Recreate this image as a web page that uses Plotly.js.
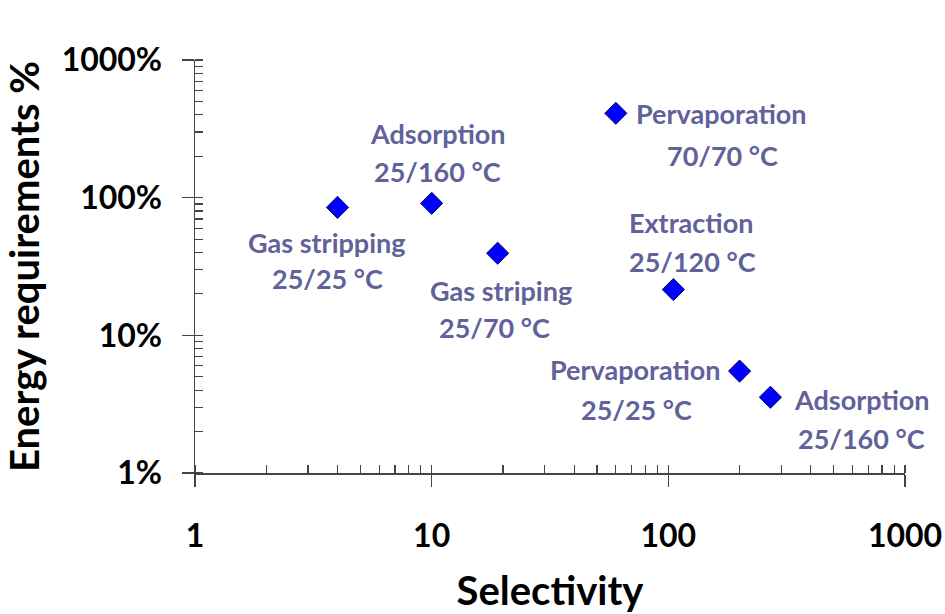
<!DOCTYPE html>
<html><head><meta charset="utf-8">
<script src="https://cdn.plot.ly/plotly-3.0.1.min.js"></script>
<style>html,body{margin:0;padding:0;background:#fff}</style>
</head><body>
<div id="chart" style="width:945px;height:614px"></div>
<script>
// Data (selectivity, energy requirement in %)
const selectivity = [4, 10, 19, 60, 105, 200, 270];
const energyPct  = [85, 91, 39.5, 410, 21.5, 5.5, 3.55];
const labelLine1 = ["Gas stripping", "Adsorption", "Gas striping", "Pervaporation", "Extraction", "Pervaporation", "Adsorption"];
const labelLine2 = ["25/25 °C", "25/160 °C", "25/70 °C", "70/70 °C", "25/120 °C", "25/25 °C", "25/160 °C"];
const xTickVals = [1, 10, 100, 1000];
const xTickText = ["1", "10", "100", "1000"];
const yTickVals = [1, 10, 100, 1000];
const yTickText = ["1%", "10%", "100%", "1000%"];

// label offsets in pixels (style)
const off1 = [[-10,-35],[6,70],[3,-37],[106,0],[18,67],[-104,2],[92,-2]];
const off2 = [[-10,-71],[6,32],[-3,-74],[107,-42],[19,28],[-103,-38],[91,-41]];

const labColor = "#62629a";
const font = "Lato, 'Open Sans', sans-serif";
const annotations = [];
for (let i = 0; i < selectivity.length; i++) {
  annotations.push({x: Math.log10(selectivity[i]), y: Math.log10(energyPct[i]), xref:'x', yref:'y',
    text: labelLine1[i], showarrow:false, xshift: off1[i][0], yshift: off1[i][1],
    font:{family:font, size:27, color:labColor, weight:700}});
  annotations.push({x: Math.log10(selectivity[i]), y: Math.log10(energyPct[i]), xref:'x', yref:'y',
    text: labelLine2[i], showarrow:false, xshift: off2[i][0], yshift: off2[i][1],
    font:{family:font, size:27, color:labColor, weight:700}});
}

const axisColor = "#444";
const data = [{
  x: selectivity, y: energyPct, type:'scatter', mode:'markers',
  marker:{symbol:'diamond', size:17, color:'#0000ff', line:{color:'#000066', width:1}},
  hoverinfo:'x+y'
}];

const layout = {
  width:945, height:614,
  margin:{l:195, r:40, t:60, b:141},
  paper_bgcolor:'#fff', plot_bgcolor:'#fff',
  showlegend:false,
  xaxis:{type:'log', range:[0,3], showgrid:false, zeroline:false,
    showline:true, linecolor:axisColor, linewidth:1.5,
    tickmode:'array', tickvals:xTickVals, ticktext:xTickText,
    ticks:'outside', ticklen:12, tickcolor:axisColor, tickwidth:1.5,
    ticklabelstandoff:22,
    tickfont:{family:font, size:32, color:'#000', weight:700},
    minor:{ticks:'inside', ticklen:8, tickcolor:axisColor, tickwidth:1.2, dtick:'D1', showgrid:false},
    title:{text:'Selectivity', standoff:26, font:{family:font, size:40, color:'#000', weight:700}}},
  yaxis:{type:'log', range:[0,3], showgrid:false, zeroline:false,
    showline:true, linecolor:axisColor, linewidth:1.5,
    tickmode:'array', tickvals:yTickVals, ticktext:yTickText,
    ticks:'outside', ticklen:12, tickcolor:axisColor, tickwidth:1.5,
    ticklabelstandoff:13,
    tickfont:{family:font, size:32, color:'#000', weight:700},
    minor:{ticks:'inside', ticklen:8, tickcolor:axisColor, tickwidth:1.2, dtick:'D1', showgrid:false},
    title:{text:'Energy requirements %', standoff:17, font:{family:font, size:40, color:'#000', weight:700}}},
  xaxis2:{type:'log', range:[0,3], overlaying:'x', anchor:'y', side:'bottom', showgrid:false, zeroline:false,
    showline:false, tickmode:'array', tickvals:xTickVals, showticklabels:false,
    ticks:'inside', ticklen:8, tickcolor:axisColor, tickwidth:1.5},
  yaxis2:{type:'log', range:[0,3], overlaying:'y', anchor:'x', side:'left', showgrid:false, zeroline:false,
    showline:false, tickmode:'array', tickvals:yTickVals, showticklabels:false,
    ticks:'inside', ticklen:8, tickcolor:axisColor, tickwidth:1.5},
  annotations: annotations
};
data.push({x:[1], y:[1], xaxis:'x2', yaxis:'y2', mode:'markers', marker:{opacity:0}, hoverinfo:'skip'});
Plotly.newPlot('chart', data, layout, {displayModeBar:false, staticPlot:true});
</script>
</body></html>
